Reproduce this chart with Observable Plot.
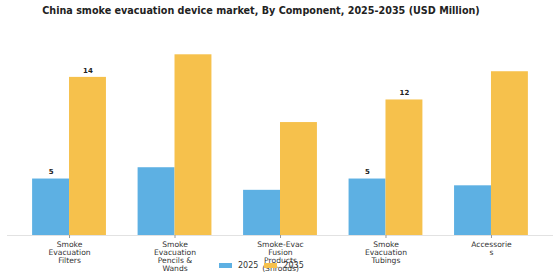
<!DOCTYPE html>
<html>
<head>
<meta charset="utf-8">
<script src="https://cdn.jsdelivr.net/npm/d3@7"></script>
<script src="https://cdn.jsdelivr.net/npm/@observablehq/plot@0.6"></script>
<style>
  html, body { margin: 0; padding: 0; background: #fff; }
  #wrap { position: relative; width: 560px; height: 280px; font-family: "DejaVu Sans", sans-serif; }
  #title { position: absolute; left: 0; top: 5px; width: 522px; text-align: center; font-weight: bold; font-size: 9.65px; color: #222; white-space: nowrap; }
  #chart { position: absolute; left: 0; top: 22px; }
  #legend { position: absolute; left: 219px; top: 261px; font-size: 8px; color: #333; display: flex; align-items: center; }
  .sw { display: inline-block; width: 13px; height: 5px; margin-right: 6px; }
  .item { display: flex; align-items: center; margin-right: 6px; }
</style>
</head>
<body>
<div id="wrap">
  <div id="title">China smoke evacuation device market, By Component, 2025-2035 (USD Million)</div>
  <div id="chart"></div>
  <div id="legend"></div>
</div>
<script>
const categories = ["Smoke Evacuation Filters", "Smoke Evacuation Pencils & Wands", "Smoke-Evac Fusion Products (Shrouds)", "Smoke Evacuation Tubings", "Accessories"];
const tickLabels = ["Smoke\nEvacuation\nFilters", "Smoke\nEvacuation\nPencils &\nWands", "Smoke-Evac\nFusion\nProducts\n(Shrouds)", "Smoke\nEvacuation\nTubings", "Accessorie\ns"];
const years = ["2025", "2035"];
const values2025 = [5.0, 6.0, 4.0, 5.0, 4.4];
const values2035 = [14.0, 16.0, 10.0, 12.0, 14.5];
const labels2025 = ["5", null, null, "5", null];
const labels2035 = ["14", null, null, "12", null];
const colors = ["#5DB0E3", "#F6C14C"];

const rows2025 = categories.map((c, i) => ({category: c, value: values2025[i], label: labels2025[i]}));
const rows2035 = categories.map((c, i) => ({category: c, value: values2035[i], label: labels2035[i]}));

const W = 560, H = 258, mL = 7, mR = 7;
const pInner = 0.3, pOuter = 0.238;
const step = (W - mL - mR) / (categories.length - pInner + 2 * pOuter);
const half = step * (1 - pInner) / 2;

const chart = Plot.plot({
  width: W,
  height: H,
  marginLeft: mL,
  marginRight: mR,
  marginTop: 21,
  marginBottom: 45,
  style: {fontFamily: "DejaVu Sans, sans-serif", background: "#fff"},
  x: {domain: categories, paddingInner: pInner, paddingOuter: pOuter, round: false, label: null},
  y: {domain: [0, 17], axis: null},
  marks: [
    Plot.ruleY([0], {stroke: "#e2e2e2", strokeWidth: 1}),
    Plot.barY(rows2025, {x: "category", y: "value", fill: colors[0], insetRight: half}),
    Plot.barY(rows2035, {x: "category", y: "value", fill: colors[1], insetLeft: half}),
    Plot.text(rows2025.filter(d => d.label), {x: "category", y: "value", text: "label", dx: -half / 2, dy: -7, fontSize: 7, fontWeight: "bold", fill: "#222"}),
    Plot.text(rows2035.filter(d => d.label), {x: "category", y: "value", text: "label", dx: half / 2, dy: -7, fontSize: 7, fontWeight: "bold", fill: "#222"}),
    Plot.axisX({tickSize: 3, stroke: "#999", fontSize: 7.6, fill: "#333", lineHeight: 1.05, tickPadding: 3,
      tickFormat: (d) => tickLabels[categories.indexOf(d)]})
  ]
});
document.getElementById("chart").appendChild(chart);

const legend = document.getElementById("legend");
years.forEach((y, i) => {
  const item = document.createElement("span");
  item.className = "item";
  item.innerHTML = `<span class="sw" style="background:${colors[i]}"></span><span>${y}</span>`;
  legend.appendChild(item);
});
</script>
</body>
</html>
